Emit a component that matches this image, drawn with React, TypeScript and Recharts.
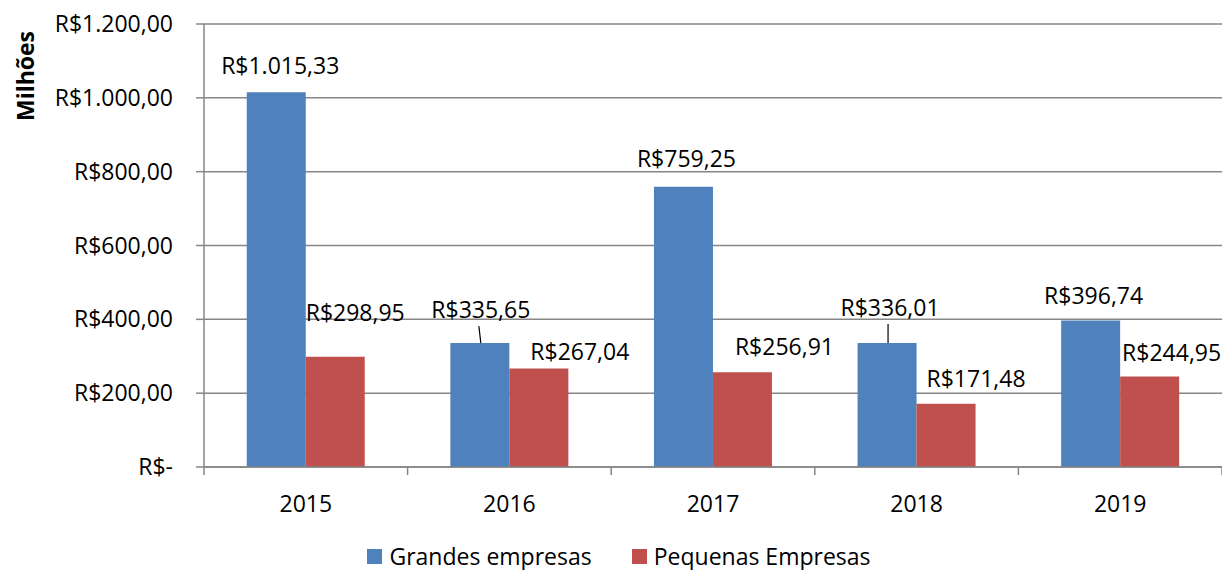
import { BarChart, Bar, XAxis, YAxis, CartesianGrid, Legend, LabelList } from 'recharts'

const years = ['2015', '2016', '2017', '2018', '2019']
const grandes = [1015.33, 335.65, 759.25, 336.01, 396.74]
const pequenas = [298.95, 267.04, 256.91, 171.48, 244.95]
const yTicks = [0, 200, 400, 600, 800, 1000, 1200]

// label nudges (dx, dy from bar top centre), the labels were dragged around in the original
const grandesNudge = [[4, -27], [1, -34], [3, -29], [3, -36], [3, -26]]
const pequenasNudge = [[20, -45], [41, -17], [42, -26], [30, -26], [22, -25]]
const grandesLeader = [false, true, false, true, false]

const BLUE = '#4F81BD'
const RED = '#C0504D'
const GRID = '#868686'
const FONT = '"Open Sans", sans-serif'

const data = years.map((year, i) => ({ year, grandes: grandes[i], pequenas: pequenas[i] }))

function fmtBRL(v: number) {
  if (v === 0) return 'R$-'
  const [int, dec] = v.toFixed(2).split('.')
  return `R$${int.replace(/\B(?=(\d{3})+(?!\d))/g, '.')},${dec}`
}

function makeLabel(nudge: number[][], leader?: boolean[]) {
  return (props: any) => {
    const { x, y, width, value, index } = props
    const cx = Number(x) + Number(width) / 2
    const top = Number(y)
    const [dx, dy] = nudge[index] || [0, -20]
    const lx = cx + dx
    const ly = top + dy
    return (
      <g>
        {leader && leader[index] && (
          <line x1={lx - 2} y1={ly + 17} x2={cx + 1} y2={top} stroke="#000" strokeWidth={1.2} />
        )}
        <text x={lx} y={ly} textAnchor="middle" dominantBaseline="central" fontSize={23} fontFamily={FONT} fill="#000">
          {fmtBRL(Number(value))}
        </text>
      </g>
    )
  }
}

function YearTick(props: any) {
  const { x, y, payload, index, visibleTicksCount } = props
  const half = payload?.offset ?? 101.8
  return (
    <g>
      <line x1={x - half} y1={y} x2={x - half} y2={y + 8} stroke={GRID} strokeWidth={1.5} />
      {index === visibleTicksCount - 1 && (
        <line x1={x + half} y1={y} x2={x + half} y2={y + 8} stroke={GRID} strokeWidth={1.5} />
      )}
      <text x={x} y={y + 36} textAnchor="middle" dominantBaseline="central" fontSize={23} fontFamily={FONT} fill="#000">
        {payload.value}
      </text>
    </g>
  )
}

function LegendBox() {
  const items = [
    { name: 'Grandes empresas', color: BLUE },
    { name: 'Pequenas Empresas', color: RED },
  ]
  return (
    <div style={{ display: 'flex', justifyContent: 'center', alignItems: 'center', height: 34, paddingTop: 6, paddingLeft: 16, boxSizing: 'border-box', gap: 40, fontFamily: FONT, fontSize: 23 }}>
      {items.map((it) => (
        <div key={it.name} style={{ display: 'flex', alignItems: 'center', gap: 7 }}>
          <span style={{ display: 'inline-block', width: 15, height: 15, background: it.color }} />
          <span style={{ color: '#000' }}>{it.name}</span>
        </div>
      ))}
    </div>
  )
}

export default function App() {
  return (
    <div style={{ position: 'absolute', left: 0, top: 0, width: 1222, height: 570, background: '#fff' }}>
      <BarChart
        width={1222}
        height={570}
        data={data}
        margin={{ top: 24, right: 0, left: 0, bottom: 0 }}
        barCategoryGap="21%"
        barGap={0}
      >
        <CartesianGrid vertical={false} stroke={GRID} strokeWidth={1.5} />
        <XAxis
          dataKey="year"
          height={69}
          tick={<YearTick />}
          tickLine={false}
          tickSize={0}
          tickMargin={0}
          axisLine={{ stroke: GRID, strokeWidth: 1.5 }}
        />
        <YAxis
          width={204}
          domain={[0, 1200]}
          ticks={yTicks}
          interval={0}
          tickFormatter={fmtBRL}
          tick={{ fontSize: 23, fill: '#000', fontFamily: FONT }}
          tickSize={8}
          tickMargin={23}
          tickLine={{ stroke: GRID, strokeWidth: 1.5 }}
          axisLine={{ stroke: GRID, strokeWidth: 1.5 }}
          label={{
            content: () => (
              <text
                x={25}
                y={76}
                transform="rotate(-90, 25, 76)"
                textAnchor="middle"
                dominantBaseline="central"
                fontSize={23}
                fontWeight="bold"
                fontFamily={FONT}
                fill="#000"
              >
                Milhões
              </text>
            ),
          }}
        />
        <Legend verticalAlign="bottom" height={34} content={<LegendBox />} />
        <Bar dataKey="grandes" name="Grandes empresas" fill={BLUE} isAnimationActive={false}>
          <LabelList dataKey="grandes" content={makeLabel(grandesNudge, grandesLeader)} />
        </Bar>
        <Bar dataKey="pequenas" name="Pequenas Empresas" fill={RED} isAnimationActive={false}>
          <LabelList dataKey="pequenas" content={makeLabel(pequenasNudge)} />
        </Bar>
      </BarChart>
    </div>
  )
}
